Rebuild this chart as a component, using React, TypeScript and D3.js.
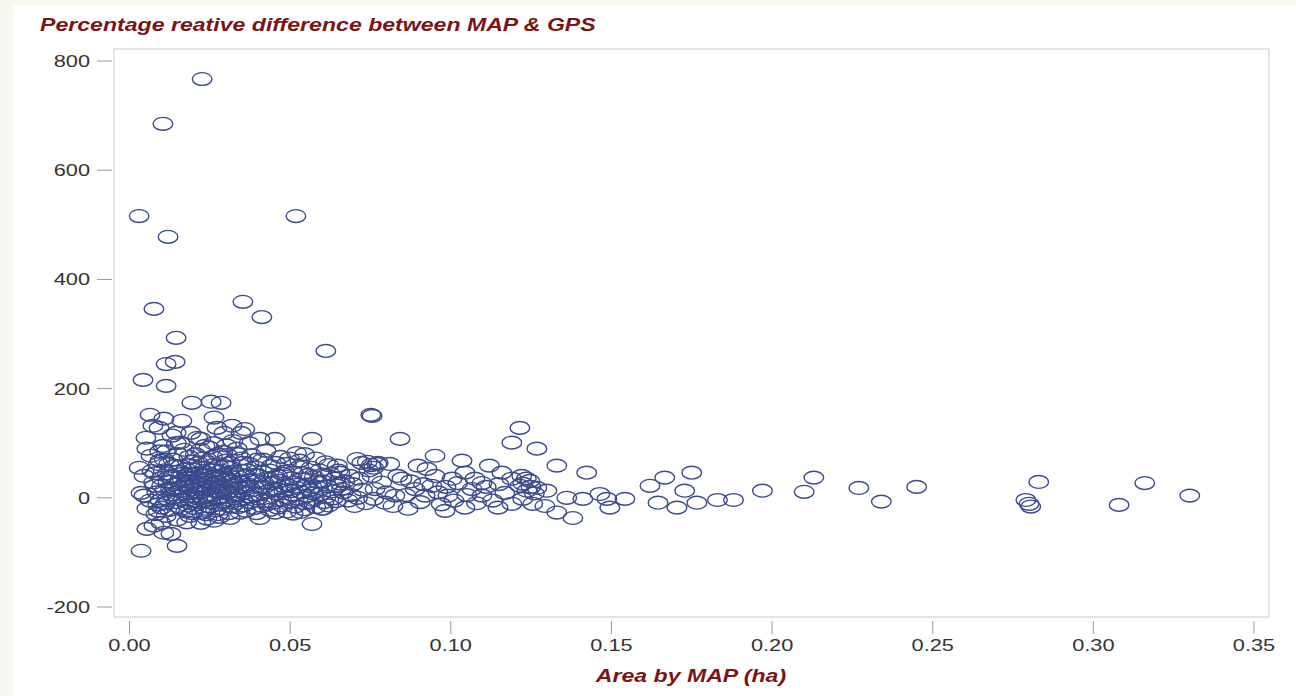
import React from "react";
import * as d3 from "d3";

const TITLE = "Percentage reative difference between MAP & GPS";
const X_TITLE = "Area by MAP (ha)";
const yTicks = [-200, 0, 200, 400, 600, 800];
const xTicks = [0, 0.05, 0.1, 0.15, 0.2, 0.25, 0.3, 0.35];

// [area by MAP (ha), percentage relative difference]
const outliers: [number, number][] = [
  [0.0226, 767], [0.0104, 685], [0.003, 516], [0.0518, 516], [0.012, 478],
  [0.0076, 346], [0.0353, 359], [0.0412, 331], [0.0145, 293], [0.0611, 269],
  [0.0114, 245], [0.0142, 249], [0.0042, 216], [0.0114, 205], [0.0751, 152], [0.0755, 150],
];

const clusterEdge: [number, number][] = [
  [0.0064, 152], [0.0073, 132], [0.0107, 145], [0.0163, 141], [0.0194, 174], [0.0254, 176],
  [0.0285, 174], [0.0263, 147], [0.0092, 128], [0.0132, 114], [0.0145, 119], [0.0191, 119],
  [0.0051, 110], [0.0272, 128], [0.0294, 119], [0.0319, 132], [0.0222, 108], [0.0347, 119],
  [0.0359, 126], [0.0406, 108], [0.0453, 108], [0.0568, 108], [0.0842, 108], [0.0322, 104],
  [0.0157, 101], [0.0235, 95], [0.0104, 95],
  [0.0054, 90], [0.0067, 77], [0.003, 55], [0.0045, 40], [0.0036, 9], [0.0045, 4], [0.0054, -20],
  [0.0054, -57], [0.0076, -51], [0.0098, -46], [0.0107, -64], [0.0129, -66], [0.0148, -88],
  [0.0036, -97], [0.0222, -46], [0.0241, -38], [0.0263, -42], [0.0313, -37], [0.0406, -37],
  [0.0509, -29], [0.0568, -48], [0.0602, -20], [0.0064, -5], [0.0079, 22], [0.007, 49],
  [0.0095, 68], [0.0089, -24], [0.0114, -33], [0.0188, -33], [0.0344, -27], [0.0453, -27],
];

const core: [number, number][] = [
  [0.0115, 85], [0.017, 88], [0.0205, 80], [0.0248, 92], [0.029, 84], [0.0335, 90], [0.038, 78],
  [0.0425, 86], [0.047, 75], [0.052, 82], [0.058, 72], [0.061, 65],
  [0.009, 62], [0.0135, 70], [0.016, 58], [0.0195, 66], [0.0228, 72], [0.0262, 60], [0.03, 68],
  [0.0318, 55], [0.0352, 64], [0.0398, 70], [0.044, 58], [0.0488, 62], [0.053, 68], [0.0565, 55],
  [0.062, 60], [0.065, 50],
  [0.008, 45], [0.0105, 50], [0.0128, 38], [0.015, 48], [0.0178, 42], [0.02, 52], [0.0215, 36],
  [0.024, 46], [0.027, 40], [0.0285, 50], [0.031, 44], [0.034, 38], [0.0365, 50], [0.039, 42],
  [0.0415, 47], [0.045, 38], [0.0475, 44], [0.0505, 36], [0.054, 45], [0.0575, 38], [0.06, 42],
  [0.064, 35],
  [0.0075, 28], [0.01, 22], [0.012, 30], [0.0142, 25], [0.0165, 32], [0.0185, 20], [0.0205, 28],
  [0.0225, 24], [0.0248, 30], [0.0265, 21], [0.028, 27], [0.0298, 32], [0.0322, 22], [0.0345, 29],
  [0.037, 24], [0.0395, 30], [0.042, 20], [0.0445, 27], [0.0468, 31], [0.0495, 22], [0.0515, 28],
  [0.055, 24], [0.0585, 30], [0.0615, 21], [0.0655, 26],
  [0.0085, 10], [0.011, 14], [0.0132, 6], [0.0155, 12], [0.0172, 8], [0.0195, 15], [0.0218, 9],
  [0.0238, 13], [0.0258, 5], [0.0275, 11], [0.0295, 15], [0.0315, 7], [0.0335, 12], [0.0358, 9],
  [0.0382, 14], [0.0405, 6], [0.043, 11], [0.0455, 8], [0.048, 13], [0.051, 5], [0.0535, 10],
  [0.056, 14], [0.0595, 7], [0.063, 12],
  [0.0095, -5], [0.0118, -2], [0.0145, -8], [0.0168, -3], [0.019, -10], [0.0212, -1], [0.0232, -6],
  [0.0252, -9], [0.0272, -2], [0.0292, -7], [0.0312, -4], [0.033, -10], [0.0352, -3], [0.0375, -8],
  [0.04, -1], [0.0425, -6], [0.0448, -9], [0.0472, -3], [0.0498, -7], [0.0525, -2], [0.0548, -10],
  [0.0572, -4], [0.0605, -8], [0.0635, -1],
  [0.01, -18], [0.0125, -22], [0.015, -15], [0.0175, -25], [0.02, -19], [0.0225, -27], [0.025, -16],
  [0.0268, -23], [0.029, -20], [0.031, -28], [0.0338, -17], [0.0362, -24], [0.0388, -19],
  [0.0412, -15], [0.0438, -22], [0.0462, -18], [0.049, -25], [0.0515, -16], [0.0545, -21],
  [0.058, -17], [0.062, -14],
  [0.016, 18], [0.0182, 35], [0.0198, 3], [0.021, 45], [0.0222, 17], [0.0235, 55], [0.0245, -2],
  [0.0255, 38], [0.0262, 26], [0.0278, 58], [0.0288, 1], [0.0302, 35], [0.0308, 19], [0.0325, 48],
  [0.0328, -1], [0.0342, 18], [0.0188, 60], [0.0172, 25], [0.0148, 2], [0.0138, 58], [0.0215, 64],
  [0.0258, 75], [0.0305, 78], [0.0348, 72], [0.0268, 12], [0.0238, 33], [0.0208, -12],
  [0.0182, -14], [0.0228, 0], [0.0282, -12], [0.032, 30], [0.0128, 16], [0.0112, -10], [0.0098, 36],
  [0.0088, -12], [0.0362, 40], [0.0378, 2], [0.0395, 55], [0.0408, 18], [0.0432, 34], [0.0458, 16],
  [0.0482, 48], [0.0502, 12], [0.0528, 56], [0.0552, 4], [0.0568, 20], [0.0592, 50], [0.0612, 2],
  [0.0642, -6], [0.066, 16],
];

const coreExtra: [number, number][] = [
  [0.0135, 40], [0.0158, 30], [0.0176, 52], [0.0192, 44], [0.0203, 22], [0.0218, 55], [0.0231, 40],
  [0.0242, 20], [0.0256, 50], [0.0266, 34], [0.0277, 20], [0.0291, 42], [0.0304, 10], [0.0318, 38],
  [0.0331, 26], [0.0346, 50], [0.0359, 20], [0.0372, 32], [0.0386, 6], [0.0401, 40], [0.0418, 28],
  [0.0436, 50], [0.0447, 15], [0.0461, 40], [0.0479, 22], [0.0492, 0], [0.0508, 46], [0.0521, 18],
  [0.0537, 34], [0.0556, 42], [0.0571, 8], [0.0588, 18], [0.0601, 30], [0.0625, 44], [0.0645, 22],
  [0.0122, 62], [0.0152, 80], [0.0185, 75], [0.0221, 88], [0.0245, 65], [0.0275, 80], [0.0312, 64],
  [0.0338, 80], [0.0372, 62], [0.0415, 70], [0.0455, 64], [0.0498, 72], [0.0545, 80], [0.0162, -20],
  [0.0196, -28], [0.0236, -20], [0.0276, -30], [0.0318, -16], [0.0356, -14], [0.0395, -28],
  [0.0428, -12], [0.0475, -14], [0.0532, -26], [0.0558, -8], [0.0598, -20], [0.0118, 45],
  [0.0108, 70], [0.0082, -30], [0.0094, 85], [0.0146, 100], [0.0212, 110], [0.0262, 100],
  [0.0302, 96], [0.0372, 100], [0.0148, -40], [0.0178, -45], [0.0238, -30], [0.028, -35],
  [0.0206, 10], [0.0226, 42], [0.0252, -3], [0.0286, 8], [0.0296, 58], [0.0332, 4], [0.0166, 44],
  [0.0185, -3], [0.0143, 16], [0.024, 2],
];

const middle: [number, number][] = [
  [0.0647, 59], [0.0708, 71], [0.0723, 64], [0.0655, 46], [0.0686, 40], [0.074, 66], [0.0752, 60],
  [0.076, 55], [0.0745, 50], [0.077, 62], [0.0755, 40], [0.0774, 64], [0.081, 62], [0.0898, 59],
  [0.0926, 53], [0.0951, 77], [0.1035, 68], [0.0848, 35], [0.0951, 40], [0.1004, 35], [0.1022, 27],
  [0.1075, 35], [0.1097, 27], [0.1044, 46], [0.112, 59], [0.1159, 46], [0.119, 35], [0.1221, 40],
  [0.119, 101], [0.1215, 128], [0.0764, 16], [0.0795, -9], [0.0826, 4], [0.0867, -20], [0.0889, 16],
  [0.092, 4], [0.0941, 22], [0.0982, -24], [0.0991, 4], [0.1044, -18], [0.1066, 16], [0.1097, 4],
  [0.1147, -18], [0.1168, 9], [0.119, -11],
  [0.0665, 10], [0.068, -5], [0.0695, 25], [0.071, 0], [0.0725, 15], [0.0735, -10], [0.07, -15],
  [0.067, 30], [0.0715, 35], [0.069, 5], [0.076, -2], [0.0785, 28], [0.08, 10], [0.082, -15],
  [0.0835, 40], [0.086, 5], [0.0875, 30], [0.0905, -8], [0.0915, 25], [0.096, 10], [0.097, -12],
  [0.0985, 20], [0.101, -5], [0.105, 5], [0.108, -10], [0.111, 20], [0.113, -5], [0.115, 25],
  [0.1268, 90], [0.133, 59], [0.1423, 46], [0.1224, 26], [0.1246, 31], [0.1268, 18], [0.1237, 13],
  [0.1299, 13], [0.1224, -2], [0.1255, -11], [0.1293, -15], [0.133, -27], [0.138, -37], [0.1361, 0],
  [0.1411, -2], [0.1464, 7], [0.1486, -2], [0.1495, -18], [0.1542, -2], [0.162, 22], [0.1666, 37],
  [0.1645, -9], [0.1704, -18], [0.1728, 13], [0.175, 46], [0.1766, -9],
  [0.1215, 22], [0.125, 20], [0.1235, 35], [0.126, 8],
];

const tail: [number, number][] = [
  [0.183, -4], [0.188, -4], [0.197, 13], [0.21, 11], [0.213, 37], [0.227, 18], [0.234, -7],
  [0.245, 20], [0.279, -4], [0.28, -11], [0.2805, -16], [0.283, 29], [0.308, -13], [0.316, 27],
  [0.33, 4],
];

const allPoints = [...core, ...coreExtra, ...clusterEdge, ...middle, ...tail, ...outliers];

const W = 1296;
const H = 696;
const frame = { left: 114, right: 1269, top: 49, bottom: 617 };
const RED = "#7b1416";
const MARK = "#3a4a8c";
const FONT = "'Liberation Sans', Arial, sans-serif";
const SX = 1.32;

function WideText(props: {
  x: number;
  y: number;
  anchor: "start" | "middle" | "end";
  size: number;
  bold?: boolean;
  fill: string;
  children: React.ReactNode;
}) {
  return (
    <text
      transform={`translate(${props.x},${props.y}) scale(${SX},1)`}
      textAnchor={props.anchor}
      fontSize={props.size}
      fontWeight={props.bold ? "bold" : "normal"}
      fontStyle={props.bold ? "italic" : "normal"}
      fill={props.fill}
    >
      {props.children}
    </text>
  );
}

export default function App() {
  const x = d3.scaleLinear().domain([0, 0.35]).range([129.5, 1254]);
  const y = d3.scaleLinear().domain([-200, 800]).range([607, 61]);
  return (
    <svg
      width={W}
      height={H}
      style={{ position: "absolute", left: 0, top: 0, display: "block" }}
      fontFamily={FONT}
    >
      <rect x={0} y={0} width={W} height={H} fill="#f8f8f0" />
      <rect x={13} y={5} width={W - 13} height={H - 5} fill="#ffffff" />
      <WideText x={40} y={31} anchor="start" size={17.5} bold fill={RED}>
        {TITLE}
      </WideText>
      <rect
        x={frame.left}
        y={frame.top}
        width={frame.right - frame.left}
        height={frame.bottom - frame.top}
        fill="#ffffff"
        stroke="#d3d3d3"
        strokeWidth={1.2}
      />
      {yTicks.map((t) => (
        <g key={"y" + t}>
          <line x1={97} x2={112} y1={y(t)} y2={y(t)} stroke="#9a9a9a" strokeWidth={1} />
          <WideText x={90} y={y(t) + 6} anchor="end" size={16.5} fill="#333">
            {t}
          </WideText>
        </g>
      ))}
      {xTicks.map((t) => (
        <g key={"x" + t}>
          <line x1={x(t)} x2={x(t)} y1={621} y2={634} stroke="#9a9a9a" strokeWidth={1} />
          <WideText x={x(t)} y={651} anchor="middle" size={16.5} fill="#333">
            {d3.format(".2f")(t)}
          </WideText>
        </g>
      ))}
      <WideText x={691} y={682} anchor="middle" size={17.5} bold fill={RED}>
        {X_TITLE}
      </WideText>
      <g>
        {allPoints.map(([a, b], i) => (
          <ellipse
            key={i}
            cx={x(a)}
            cy={y(b)}
            rx={9.8}
            ry={6.4}
            fill="none"
            stroke={MARK}
            strokeWidth={1.4}
          />
        ))}
      </g>
    </svg>
  );
}
